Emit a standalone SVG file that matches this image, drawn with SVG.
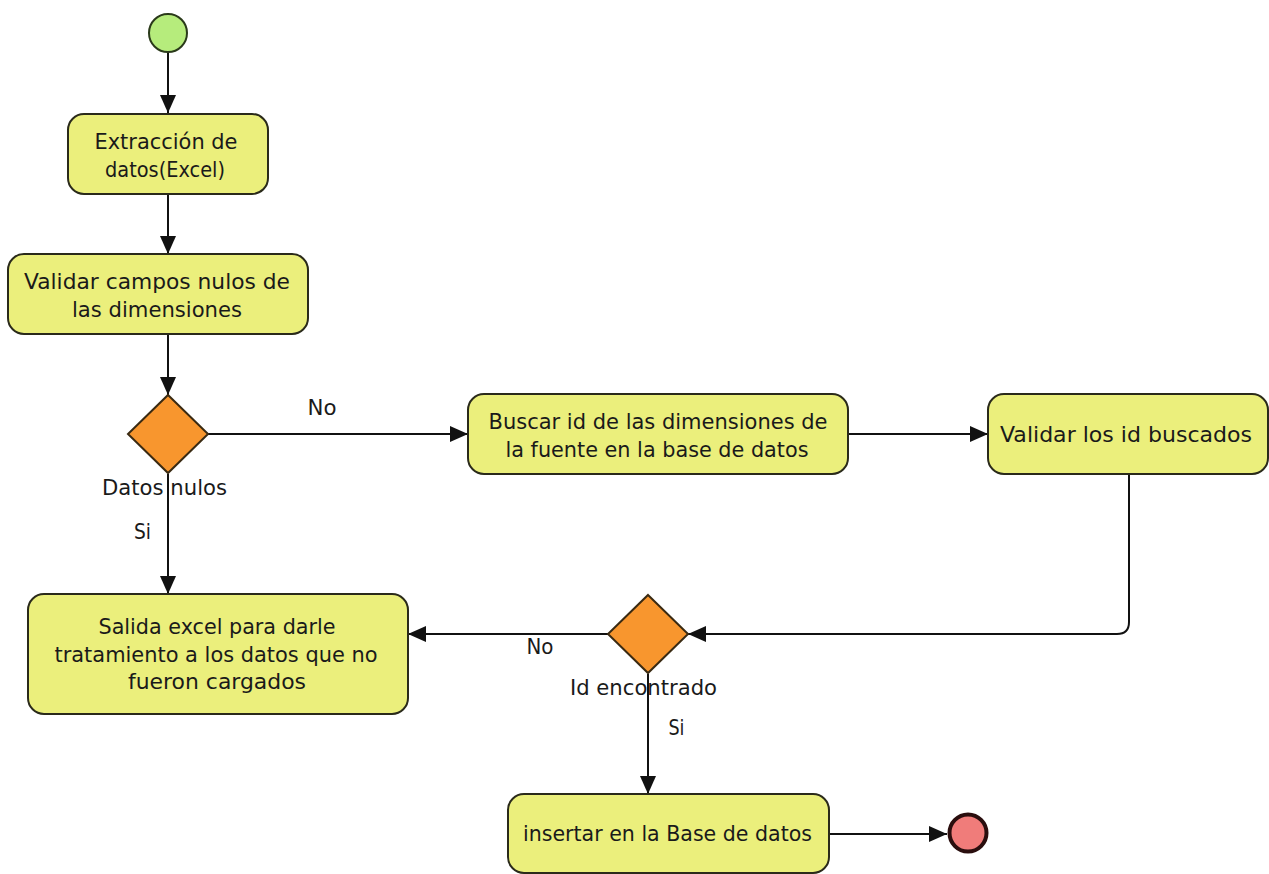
<svg xmlns="http://www.w3.org/2000/svg" width="1269" height="874" viewBox="0 0 1269 874">
<defs>
<marker id="arr" markerWidth="18" markerHeight="16" refX="18" refY="8" orient="auto" markerUnits="userSpaceOnUse">
<path d="M0,0 L18,8 L0,16 Z" fill="#111"/>
</marker>
<style>
.box{fill:#ebef7c;stroke:#2a2a1a;stroke-width:2}
.dia{fill:#f8962e;stroke:#3a2a12;stroke-width:2}
.t{font-family:"DejaVu Sans","Liberation Sans",sans-serif;font-size:21px;fill:#1a1a1a;text-anchor:middle}
.c{fill:none;stroke:#111;stroke-width:2}
</style>
</defs>
<rect width="1269" height="874" fill="#ffffff"/>
<g id="connectors">
<path class="c" d="M168,52 V113" marker-end="url(#arr)"/>
<path class="c" d="M168,194 V254" marker-end="url(#arr)"/>
<path class="c" d="M168,334 V395" marker-end="url(#arr)"/>
<path class="c" d="M208,434 H468" marker-end="url(#arr)"/>
<path class="c" d="M848,434 H988" marker-end="url(#arr)"/>
<path class="c" d="M1129,474 V622 Q1129,634 1117,634 H688" marker-end="url(#arr)"/>
<path class="c" d="M168,474 V594" marker-end="url(#arr)"/>
<path class="c" d="M608,634 H408" marker-end="url(#arr)"/>
<path class="c" d="M648,674 V794" marker-end="url(#arr)"/>
<path class="c" d="M829,834 H947" marker-end="url(#arr)"/>
<text class="t" x="322" y="415" textLength="29" lengthAdjust="spacingAndGlyphs">No</text>
<text class="t" x="164.5" y="495" textLength="125" lengthAdjust="spacingAndGlyphs">Datos nulos</text>
<text class="t" x="142.5" y="539" textLength="17" lengthAdjust="spacingAndGlyphs">Si</text>
<text class="t" x="540" y="654" textLength="27" lengthAdjust="spacingAndGlyphs">No</text>
<text class="t" x="643.5" y="695" textLength="147" lengthAdjust="spacingAndGlyphs">Id encontrado</text>
<text class="t" x="676.5" y="735" textLength="16" lengthAdjust="spacingAndGlyphs">Si</text>
</g>
<g id="start">
<circle cx="168" cy="33" r="19" fill="#b6ec7c" stroke="#2a3a1a" stroke-width="2"/>
</g>
<g id="extraccion">
<rect class="box" x="68" y="114" width="200" height="80" rx="16"/>
<text class="t" x="166" y="149" textLength="143" lengthAdjust="spacingAndGlyphs">Extracción de</text>
<text class="t" x="165" y="177" textLength="120" lengthAdjust="spacingAndGlyphs">datos(Excel)</text>
</g>
<g id="validar-campos">
<rect class="box" x="8" y="254" width="300" height="80" rx="16"/>
<text class="t" x="157" y="289" textLength="266" lengthAdjust="spacingAndGlyphs">Validar campos nulos de</text>
<text class="t" x="157" y="317" textLength="170" lengthAdjust="spacingAndGlyphs">las dimensiones</text>
</g>
<g id="datos-nulos">
<polygon class="dia" points="168,395 208,434 168,473 128,434"/>
</g>
<g id="buscar-id">
<rect class="box" x="468" y="394" width="380" height="80" rx="16"/>
<text class="t" x="658" y="429" textLength="339" lengthAdjust="spacingAndGlyphs">Buscar id de las dimensiones de</text>
<text class="t" x="657" y="457" textLength="303" lengthAdjust="spacingAndGlyphs">la fuente en la base de datos</text>
</g>
<g id="validar-id">
<rect class="box" x="988" y="394" width="280" height="80" rx="16"/>
<text class="t" x="1126" y="442" textLength="252" lengthAdjust="spacingAndGlyphs">Validar los id buscados</text>
</g>
<g id="id-encontrado">
<polygon class="dia" points="648,595 688,634 648,673 608,634"/>
</g>
<g id="salida-excel">
<rect class="box" x="28" y="594" width="380" height="120" rx="16"/>
<text class="t" x="217" y="634" textLength="237" lengthAdjust="spacingAndGlyphs">Salida excel para darle</text>
<text class="t" x="216" y="662" textLength="323" lengthAdjust="spacingAndGlyphs">tratamiento a los datos que no</text>
<text class="t" x="217" y="689" textLength="178" lengthAdjust="spacingAndGlyphs">fueron cargados</text>
</g>
<g id="insertar">
<rect class="box" x="508" y="794" width="321" height="79" rx="16"/>
<text class="t" x="667.5" y="841" textLength="289" lengthAdjust="spacingAndGlyphs">insertar en la Base de datos</text>
</g>
<g id="end">
<circle cx="968" cy="833" r="18.5" fill="#f07c7a" stroke="#2a0e0e" stroke-width="4"/>
</g>
</svg>
